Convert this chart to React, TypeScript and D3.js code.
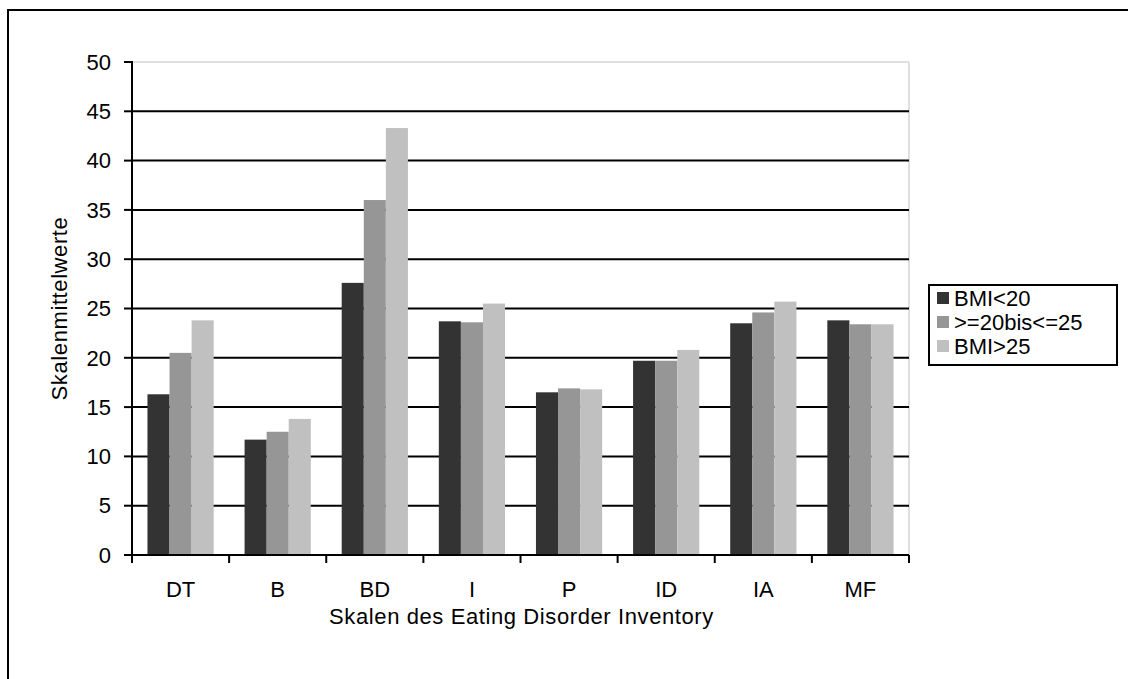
import React from "react";
import * as d3 from "d3";

const categories = ["DT", "B", "BD", "I", "P", "ID", "IA", "MF"];
const seriesNames = ["BMI<20", ">=20bis<=25", "BMI>25"];
const bmiUnder20 = [16.3, 11.7, 27.6, 23.7, 16.5, 19.7, 23.5, 23.8];
const bmi20to25 = [20.5, 12.5, 36.0, 23.6, 16.9, 19.7, 24.6, 23.4];
const bmiOver25 = [23.8, 13.8, 43.3, 25.5, 16.8, 20.8, 25.7, 23.4];
const seriesValues = [bmiUnder20, bmi20to25, bmiOver25];
const colors = ["#333333", "#969696", "#c0c0c0"];
const yTicks = [0, 5, 10, 15, 20, 25, 30, 35, 40, 45, 50];

const W = 1128;
const H = 679;
const left = 132;
const right = 909;
const top = 62;
const bottom = 555;
const font = "'Liberation Sans', Arial, sans-serif";
const fs = 22;

export default function App() {
  const x = d3.scaleBand<string>().domain(categories).range([left, right]).paddingInner(0).paddingOuter(0);
  const y = d3.scaleLinear().domain([0, 50]).range([bottom, top]);
  const bw = x.bandwidth() / 4.4;
  const offset = bw * 0.7;

  return (
    <svg width={W} height={H} style={{ position: "absolute", left: 0, top: 0, background: "#fff" }}>
      <rect x={8} y={10} width={W} height={H} fill="#fff" stroke="#000" strokeWidth={2} />
      {/* plot area border */}
      <line x1={left} x2={right} y1={y(50)} y2={y(50)} stroke="#d4d4d4" strokeWidth={1.5} />
      <line x1={right} x2={right} y1={y(50)} y2={bottom} stroke="#d4d4d4" strokeWidth={1.5} />
      {/* gridlines */}
      {yTicks.filter((t) => t > 0 && t < 50).map((t) => (
        <line key={t} x1={left} x2={right} y1={y(t)} y2={y(t)} stroke="#000" strokeWidth={2} />
      ))}
      {/* bars */}
      {seriesValues.map((vals, si) =>
        vals.map((v, ci) => (
          <rect
            key={`${si}-${ci}`}
            x={(x(categories[ci]) as number) + offset + si * bw}
            y={y(v)}
            width={bw}
            height={bottom - y(v)}
            fill={colors[si]}
          />
        ))
      )}
      {/* y axis */}
      <line x1={left} x2={left} y1={y(50) - 1} y2={bottom + 1} stroke="#000" strokeWidth={2} />
      {yTicks.map((t) => (
        <g key={t}>
          <line x1={left - 8} x2={left} y1={y(t)} y2={y(t)} stroke="#000" strokeWidth={2} />
          <text x={111} y={y(t)} dy="0.35em" textAnchor="end" fontFamily={font} fontSize={fs} fill="#000">
            {t}
          </text>
        </g>
      ))}
      {/* x axis */}
      <line x1={left} x2={right} y1={bottom} y2={bottom} stroke="#000" strokeWidth={2} />
      {categories.map((c) => (
        <line key={c} x1={x(c) as number} x2={x(c) as number} y1={bottom} y2={bottom + 8} stroke="#000" strokeWidth={2} />
      ))}
      <line x1={right} x2={right} y1={bottom} y2={bottom + 8} stroke="#000" strokeWidth={2} />
      {categories.map((c) => (
        <text key={c} x={(x(c) as number) + x.bandwidth() / 2} y={597} textAnchor="middle" fontFamily={font} fontSize={fs} fill="#000">
          {c}
        </text>
      ))}
      <text x={(left + right) / 2 + 1} y={624} textAnchor="middle" fontFamily={font} fontSize={fs} letterSpacing={0.6} fill="#000">
        Skalen des Eating Disorder Inventory
      </text>
      <text transform={`translate(59, ${(top + bottom) / 2}) rotate(-90)`} dy="0.35em" textAnchor="middle" fontFamily={font} fontSize={fs} letterSpacing={0.6} fill="#000">
        Skalenmittelwerte
      </text>
      {/* legend */}
      <rect x={929} y={285} width={188} height={80} fill="#fff" stroke="#000" strokeWidth={2} />
      {seriesNames.map((n, i) => (
        <g key={n}>
          <rect x={937} y={292 + i * 24} width={12} height={12} fill={colors[i]} />
          <text x={954} y={298 + i * 24} dy="0.35em" fontFamily={font} fontSize={fs} fill="#000">
            {n}
          </text>
        </g>
      ))}
    </svg>
  );
}
